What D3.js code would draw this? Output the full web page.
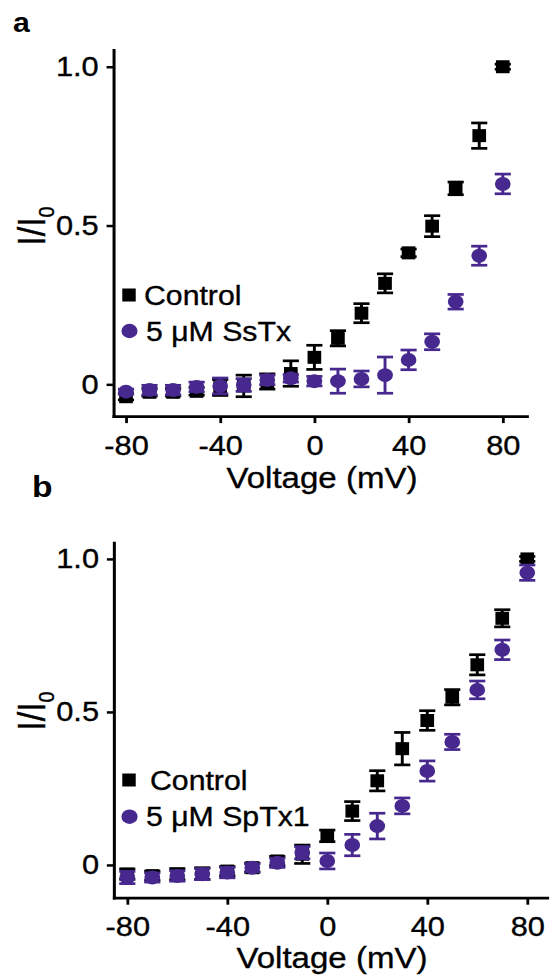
<!DOCTYPE html>
<html><head><meta charset="utf-8">
<script src="https://cdn.jsdelivr.net/npm/d3@7"></script>
<style>body{margin:0;background:#fff} svg{display:block}</style>
</head><body>
<svg id="chart" width="550" height="976"></svg>
<script>
// ---------- data ----------
const voltages = [-80,-70,-60,-50,-40,-30,-20,-10,0,10,20,30,40,50,60,70,80];

const controlA    = [-0.039,-0.025,-0.025,-0.022,-0.010,-0.005,0.009,0.034,0.085,0.145,0.224,0.318,0.414,0.498,0.617,0.783,1.000];
const controlAErr = [0.010,0.012,0.012,0.012,0.025,0.034,0.024,0.040,0.038,0.024,0.030,0.030,0.012,0.033,0.020,0.040,0.008];
const ssTx        = [-0.023,-0.018,-0.018,-0.008,-0.005,-0.002,0.014,0.019,0.010,0.010,0.017,0.029,0.077,0.134,0.260,0.405,0.631];
const ssTxErr     = [0.008,0.015,0.015,0.015,0.025,0.020,0.015,0.012,0.015,0.038,0.025,0.057,0.031,0.025,0.023,0.030,0.031];

const controlB    = [-0.030,-0.035,-0.030,-0.028,-0.020,-0.009,0.013,0.035,0.095,0.176,0.275,0.380,0.472,0.548,0.654,0.806,1.000];
const controlBErr = [0.017,0.015,0.018,0.019,0.015,0.015,0.015,0.030,0.019,0.031,0.033,0.053,0.032,0.025,0.033,0.028,0.008];
const spTx1       = [-0.041,-0.041,-0.036,-0.030,-0.025,-0.009,0.007,0.040,0.013,0.065,0.127,0.193,0.307,0.402,0.572,0.703,0.955];
const spTx1Err    = [0.020,0.015,0.017,0.018,0.017,0.013,0.015,0.020,0.026,0.035,0.042,0.026,0.033,0.025,0.029,0.032,0.025];

const xTicks = [-80,-40,0,40,80];
const xTickLabels = ["-80","-40","0","40","80"];
const yTicks = [0,0.5,1.0];
const yTickLabels = ["0","0.5","1.0"];
const seriesNamesA = ["Control","5 \u03bcM SsTx"];
const seriesNamesB = ["Control","5 \u03bcM SpTx1"];
const xTitle = "Voltage (mV)";

// ---------- style ----------
const SX = 1.12;               // horizontal stretch of the original figure
const BLACK = "#000000", PURPLE = "#46288e";
const FONT = "'Liberation Sans', Arial, Helvetica, sans-serif";
const TEXT_STROKE = 0.35;

const svg = d3.select("#chart");
const root = svg.append("g").attr("transform", `scale(${SX},1)`);

function heavy(sel) {
  return sel.attr("fill", "#000").attr("stroke", "#000").attr("stroke-width", TEXT_STROKE);
}

function panel(cfg) {
  const x = d3.scaleLinear().domain(cfg.xDomain).range(cfg.xRange.map(v => v / SX));
  const y = d3.scaleLinear().domain(cfg.yDomain).range(cfg.yRange);
  const g = root.append("g");

  // axes
  const xAxis = d3.axisBottom(x).tickValues(xTicks).tickSize(7).tickSizeOuter(0).tickPadding(12)
    .tickFormat((d, i) => xTickLabels[i]);
  const gx = g.append("g").attr("transform", `translate(0,${y(cfg.yDomain[0])})`).call(xAxis);
  const yAxis = d3.axisLeft(y).tickValues(yTicks).tickSize(6.2).tickSizeOuter(0).tickPadding(7)
    .tickFormat((d, i) => yTickLabels[i]);
  const gy = g.append("g").attr("transform", `translate(${x(cfg.xDomain[0])},0)`).call(yAxis);
  [gx, gy].forEach(a => {
    a.attr("font-family", FONT).attr("font-size", 27.5);
    a.select(".domain").attr("stroke", "#000").attr("stroke-width", 2.7).attr("stroke-linecap", "square");
    a.selectAll(".tick line").attr("stroke", "#000").attr("stroke-width", 2.5);
    heavy(a.selectAll(".tick text"));
  });

  // series
  const cap = 7.2;
  cfg.series.forEach(s => {
    const sg = g.append("g");
    voltages.forEach((v, i) => {
      const cx = x(v), val = s.values[i], e = s.errs[i];
      const y1 = y(val - e), y2 = y(val + e);
      sg.append("line").attr("x1", cx).attr("x2", cx).attr("y1", y1).attr("y2", y2)
        .attr("stroke", s.color).attr("stroke-width", 2.6);
      [y1, y2].forEach(yy => sg.append("line").attr("x1", cx - cap).attr("x2", cx + cap)
        .attr("y1", yy).attr("y2", yy).attr("stroke", s.color).attr("stroke-width", 2.7));
      if (s.shape === "square") {
        sg.append("rect").attr("x", cx - 6.1).attr("y", y(val) - 6.5).attr("width", 12.2).attr("height", 13)
          .attr("fill", s.color);
      } else {
        sg.append("circle").attr("cx", cx).attr("cy", y(val)).attr("r", 7).attr("fill", s.color);
      }
    });
  });

  // legend
  cfg.legend.forEach(l => {
    if (l.shape === "square") {
      g.append("rect").attr("x", l.mx / SX - 6).attr("y", l.my - 6.5).attr("width", 12).attr("height", 13).attr("fill", l.color);
    } else {
      g.append("circle").attr("cx", l.mx / SX).attr("cy", l.my).attr("r", 7.2).attr("fill", l.color);
    }
    heavy(g.append("text").attr("x", l.tx / SX).attr("y", l.ty).attr("font-family", FONT).attr("font-size", 27))
      .text(l.text);
  });

  // axis titles
  heavy(g.append("text").attr("x", cfg.xTitlePos[0] / SX).attr("y", cfg.xTitlePos[1]).attr("text-anchor", "middle")
    .attr("font-family", FONT).attr("font-size", 29.5)).text(xTitle);
  const yt = heavy(g.append("text").attr("transform", `translate(${cfg.yTitlePos[0] / SX},${cfg.yTitlePos[1]}) rotate(-90)`)
    .attr("text-anchor", "middle").attr("font-family", FONT).attr("font-size", 34));
  yt.append("tspan").text("I/I");
  yt.append("tspan").attr("font-size", 20).attr("dy", 8).text("0");

  // panel letter
  g.append("text").attr("x", cfg.letterPos[0] / SX).attr("y", cfg.letterPos[1]).attr("font-family", FONT)
    .attr("font-weight", "bold").attr("font-size", cfg.letterSize).attr("fill", "#000").text(cfg.letter);
}

panel({
  xDomain: [-85.3, 90.2], xRange: [113.5, 526.8],
  yDomain: [-0.1, 1.053], yRange: [416.1, 49.9],
  series: [
    {values: controlA, errs: controlAErr, color: BLACK, shape: "square"},
    {values: ssTx, errs: ssTxErr, color: PURPLE, shape: "circle"}
  ],
  legend: [
    {shape: "square", color: BLACK, mx: 129, my: 295, tx: 144, ty: 305, text: seriesNamesA[0]},
    {shape: "circle", color: PURPLE, mx: 129.5, my: 331, tx: 146, ty: 341, text: seriesNamesA[1]}
  ],
  xTitlePos: [322, 488.5], yTitlePos: [45, 226],
  letter: "a", letterPos: [13, 31.7], letterSize: 27
});

panel({
  xDomain: [-85.4, 87.9], xRange: [113.8, 547],
  yDomain: [-0.107, 1.053], yRange: [897.7, 542.7],
  series: [
    {values: controlB, errs: controlBErr, color: BLACK, shape: "square"},
    {values: spTx1, errs: spTx1Err, color: PURPLE, shape: "circle"}
  ],
  legend: [
    {shape: "square", color: BLACK, mx: 129, my: 780, tx: 150, ty: 790, text: seriesNamesB[0]},
    {shape: "circle", color: PURPLE, mx: 129.5, my: 816.7, tx: 146, ty: 826, text: seriesNamesB[1]}
  ],
  xTitlePos: [332, 968.5], yTitlePos: [45, 711],
  letter: "b", letterPos: [32, 497], letterSize: 30
});
</script>
</body></html>
